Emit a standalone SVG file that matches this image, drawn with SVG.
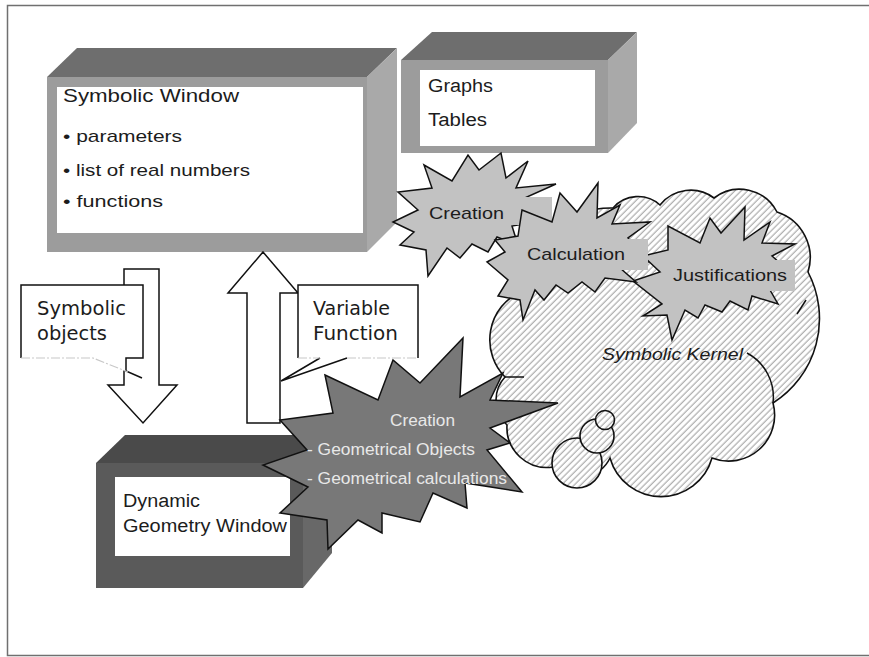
<svg xmlns="http://www.w3.org/2000/svg" width="869" height="657" viewBox="0 0 869 657">
<defs>
<pattern id="hatch" width="4.5" height="4.5" patternUnits="userSpaceOnUse" patternTransform="rotate(45)">
<rect width="4.5" height="4.5" fill="#fff"/>
<line x1="2" y1="0" x2="2" y2="4.5" stroke="#9a9a9a" stroke-width="1"/>
</pattern>
</defs>
<style>
.t{font-family:"Liberation Sans",Arial,sans-serif;fill:#1c1c1c}
.d{font-family:"DejaVu Sans","Liberation Sans",sans-serif;fill:#1c1c1c}
.w{font-family:"Liberation Sans",Arial,sans-serif;fill:#e8e8e8}
.star{fill:#c2c2c2;stroke:#111;stroke-width:1.5;stroke-linejoin:miter}
.dstar{fill:#787878;stroke:#111;stroke-width:1.5}
.arrow{fill:#fff;stroke:#111;stroke-width:1.5}
.cl{fill:url(#hatch);stroke:#111;stroke-width:1.6}
.ln{fill:none;stroke:#111;stroke-width:1.5}
.faint{fill:none;stroke:#c8c8c8;stroke-width:1.2;stroke-dasharray:9 2 2 2}
</style>
<rect width="869" height="657" fill="#fff"/>
<path d="M869,5.5 H7.5 V655.5 H869" fill="none" stroke="#707070" stroke-width="1.5"/>

<g id="symbolic-window">
<polygon points="47,77 77,48 397,48 367,77" fill="#6e6e6e"/>
<polygon points="367,77 397,48 397,222 367,252" fill="#a9a9a9"/>
<rect x="47" y="77" width="320" height="175" fill="#9c9c9c"/>
<rect x="57" y="87" width="306" height="146" fill="#fff"/>
<text class="t" x="63" y="102" font-size="18" textLength="176" lengthAdjust="spacingAndGlyphs">Symbolic Window</text>
<text class="t" x="63" y="142" font-size="17" textLength="119" lengthAdjust="spacingAndGlyphs">• parameters</text>
<text class="t" x="63" y="176" font-size="17" textLength="187" lengthAdjust="spacingAndGlyphs">• list of real numbers</text>
<text class="t" x="63" y="207" font-size="17" textLength="100" lengthAdjust="spacingAndGlyphs">• functions</text>
</g>

<g id="graphs-tables">
<polygon points="401,60 432,32 637,32 608,60" fill="#6e6e6e"/>
<polygon points="608,60 637,32 637,123 608,153" fill="#a9a9a9"/>
<rect x="401" y="60" width="207" height="93" fill="#9c9c9c"/>
<rect x="420" y="70" width="175" height="76" fill="#fff"/>
<text class="t" x="428" y="92" font-size="18" textLength="65" lengthAdjust="spacingAndGlyphs">Graphs</text>
<text class="t" x="428" y="126" font-size="18" textLength="59" lengthAdjust="spacingAndGlyphs">Tables</text>
</g>

<g id="dynamic-geometry-window">
<polygon points="96,463 125,435 332,435 303,463" fill="#4a4a4a"/>
<polygon points="303,463 332,435 332,553 303,588" fill="#686868"/>
<rect x="96" y="463" width="207" height="125" fill="#5a5a5a"/>
<rect x="115" y="477" width="175" height="79" fill="#fff"/>
<text class="t" x="123" y="507" font-size="18" textLength="77" lengthAdjust="spacingAndGlyphs">Dynamic</text>
<text class="t" x="123" y="532" font-size="18" textLength="164" lengthAdjust="spacingAndGlyphs">Geometry Window</text>
</g>

<g id="symbolic-kernel">
<path class="cl" d="M520,292 A91,91 0 0 1 613,208 A33,33 0 0 1 660,205 A39,39 0 0 1 714,198 A42,42 0 0 1 777,212 A48,48 0 0 1 808,272 A100,100 0 0 1 773,403 A46,46 0 0 1 712,458 A53,53 0 0 1 610,458 A35,35 0 0 1 553,467 A40,40 0 0 1 507,425 A34,34 0 0 1 505,377 A53,53 0 0 1 520,292 Z"/>
<path class="ln" d="M747,353 A50,50 0 0 1 773,403"/>
<path class="ln" d="M505,377 L524,377"/>
<path class="ln" d="M806,300 L797,314"/>
<circle class="cl" cx="577" cy="463" r="25"/>
<circle class="cl" cx="597" cy="436" r="17"/>
<circle class="cl" cx="605" cy="420" r="9.5"/>
<text x="602" y="360" font-size="17" font-style="italic" font-family="Liberation Sans,Arial,sans-serif" fill="#1c1c1c" textLength="141" lengthAdjust="spacingAndGlyphs">Symbolic Kernel</text>
</g>

<g id="creation">
<polygon class="star" points="424,165 452,181 468,155 479,170 501,153 506,178 528,161 516,188 556,184 520,200 535,222 512,226 518,245 497,237 488,252 472,244 460,258 447,248 428,276 426,250 400,245 414,232 393,222 418,210 398,192 432,188"/>
<rect x="426" y="197" width="126" height="28" fill="#c2c2c2"/>
<text class="t" x="429" y="219" font-size="17" textLength="75" lengthAdjust="spacingAndGlyphs">Creation</text>
</g>

<g id="justifications">
<polygon class="star" points="643,256 668,250 668,226 700,243 710,218 721,233 745,207 744,240 770,222 762,243 795,244 772,256 790,272 770,290 778,304 752,296 748,310 730,301 722,312 705,305 698,318 685,310 672,340 667,315 643,316 662,304 633,281 660,272"/>
<rect x="668" y="260" width="127" height="31" fill="#c2c2c2"/>
<text class="t" x="673" y="281" font-size="17" textLength="114" lengthAdjust="spacingAndGlyphs">Justifications</text>
</g>

<g id="calculation">
<polygon class="star" points="522,210 552,222 560,193 577,212 598,183 597,218 620,205 612,224 650,222 628,238 648,262 620,268 636,282 605,278 595,292 582,282 568,293 556,285 544,300 535,290 523,320 520,300 498,296 508,280 487,262 505,252 495,240 518,236"/>
<rect x="522" y="239" width="126" height="31" fill="#c2c2c2"/>
<text class="t" x="527" y="260" font-size="17" textLength="98" lengthAdjust="spacingAndGlyphs">Calculation</text>
</g>

<g id="connectors">
<polygon class="arrow" points="124,269 159,269 159,385 177,385 143,423 108,385 124,385"/>
<polygon class="arrow" points="263,252 298,293 280,293 280,423 247,423 247,293 228,293"/>
</g>

<g id="callout-symbolic-objects">
<path d="M21,285 H143 V358 H126 V371 L142,378 L93,358 H21 Z" fill="#fff"/>
<path class="ln" d="M21,358 V285 H143 V358 H126 V371 L142,378"/>
<path class="faint" d="M21,358 H93 L128,372"/>
<text class="d" x="37" y="315" font-size="20" textLength="89" lengthAdjust="spacingAndGlyphs">Symbolic</text>
<text class="d" x="37" y="340" font-size="20" textLength="70" lengthAdjust="spacingAndGlyphs">objects</text>
</g>

<g id="callout-variable-function">
<path d="M298,285 H418 V358 H347 L281,381 L320,358 H298 Z" fill="#fff"/>
<path class="ln" d="M298,358 V285 H418 V358"/>
<path class="ln" d="M320,358 L281,381 L347,358"/>
<path class="faint" d="M298,358 H320 M347,358 H418"/>
<text class="d" x="313" y="315" font-size="20" textLength="77" lengthAdjust="spacingAndGlyphs">Variable</text>
<text class="d" x="313" y="340" font-size="20" textLength="85" lengthAdjust="spacingAndGlyphs">Function</text>
</g>

<g id="geometry-creation">
<polygon class="dstar" points="325,375 378,400 393,360 420,383 463,338 460,397 503,373 490,400 558,403 490,428 510,443 487,450 522,492 465,483 467,508 433,493 420,522 382,513 382,533 358,520 328,549 327,520 280,513 308,487 263,465 307,450 280,420 333,413"/>
<text class="w" x="390" y="426" font-size="16" textLength="65" lengthAdjust="spacingAndGlyphs">Creation</text>
<text class="w" x="307" y="455" font-size="16" textLength="168" lengthAdjust="spacingAndGlyphs">- Geometrical Objects</text>
<text class="w" x="307" y="484" font-size="16" textLength="200" lengthAdjust="spacingAndGlyphs">- Geometrical calculations</text>
</g>
</svg>
